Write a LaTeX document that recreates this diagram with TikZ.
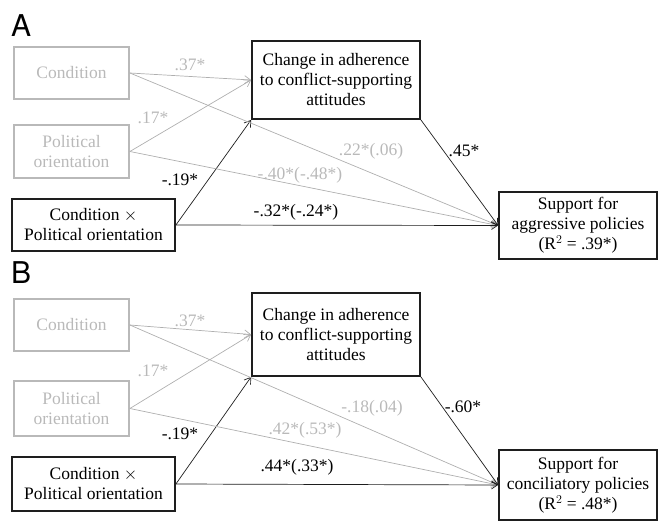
\documentclass[tikz,border=0pt]{standalone}
\usepackage{fontspec}
\setmainfont{Liberation Serif}
\newfontfamily\panelfont{TeX Gyre Heros}
\usetikzlibrary{arrows.meta}
\definecolor{lg}{RGB}{185,185,185}
\definecolor{lgline}{RGB}{175,175,175}
\definecolor{dk}{RGB}{30,30,30}
\begin{document}
\begin{tikzpicture}[x=1pt,y=-1pt,
  every node/.style={font=\fontsize{17.5}{20}\selectfont, inner sep=0pt},
  graybox/.style={draw=lg, line width=1.8pt, text=lg, align=center},
  blackbox/.style={draw=dk, line width=1.8pt, text=black, align=center},
  grayarrow/.style={draw=lgline, line width=0.7pt, -{Straight Barb[length=6pt,width=8pt]}},
  blackarrow/.style={draw=dk, line width=0.7pt, -{Straight Barb[length=6pt,width=8pt]}},
  graylab/.style={text=lg},
  blacklab/.style={text=black},
  panel/.style={font=\panelfont\fontsize{30}{30}\selectfont}
]
\useasboundingbox (0,0) rectangle (658,521);

% ---------- Panel A ----------
\node[graybox, minimum width=115, minimum height=52] (condA) at (71.5,73) {Condition};
\node[graybox, minimum width=115, minimum height=53] (polA) at (71.5,151.5) {Political\\orientation};
\node[blackbox, minimum width=163, minimum height=52] (intA) at (93.5,225) {Condition $\times$\\Political orientation};
\node[blackbox, minimum width=168, minimum height=78] (chgA) at (336,80) {Change in adherence\\to conflict-supporting\\attitudes};
\node[blackbox, minimum width=158, minimum height=67] (supA) at (578,225.5) {Support for\\aggressive policies\\(R$^{2}$ = .39*)};

\draw[grayarrow] (condA.east) -- (chgA.west);
\draw[grayarrow] (polA.east) -- (chgA.west);
\draw[blackarrow] (intA.east) -- (chgA.south west);
\draw[grayarrow] (condA.east) -- (supA.west);
\draw[grayarrow] (polA.east) -- (supA.west);
\draw[blackarrow] (intA.east) -- (supA.west);
\draw[blackarrow] (chgA.south east) -- (supA.west);

\node[graylab] (a1) at (190,65) {.37*};
\node[graylab] (a2) at (153,118) {.17*};
\node[blacklab] (a3) at (180,180) {-.19*};
\node[graylab] (a4) at (371,151) {.22*(.06)};
\node[graylab] (a5) at (300,175) {-.40*(-.48*)};
\node[blacklab] (a6) at (296,212) {-.32*(-.24*)};
\node[blacklab] (a7) at (464,151) {.45*};

% ---------- Panel B ----------
\node[graybox, minimum width=115, minimum height=52] (condB) at (71.5,325) {Condition};
\node[graybox, minimum width=115, minimum height=55] (polB) at (71.5,408.5) {Political\\orientation};
\node[blackbox, minimum width=163, minimum height=54] (intB) at (93.5,484) {Condition $\times$\\Political orientation};
\node[blackbox, minimum width=168, minimum height=83] (chgB) at (336,334.5) {Change in adherence\\to conflict-supporting\\attitudes};
\node[blackbox, minimum width=158, minimum height=70] (supB) at (578,485) {Support for\\conciliatory policies\\(R$^{2}$ = .48*)};

\draw[grayarrow] (condB.east) -- (chgB.west);
\draw[grayarrow] (polB.east) -- (chgB.west);
\draw[blackarrow] (intB.east) -- (chgB.south west);
\draw[grayarrow] (condB.east) -- (supB.west);
\draw[grayarrow] (polB.east) -- (supB.west);
\draw[blackarrow] (intB.east) -- (supB.west);
\draw[blackarrow] (chgB.south east) -- (supB.west);

\node[graylab] (b1) at (190,321) {.37*};
\node[graylab] (b2) at (153,371) {.17*};
\node[blacklab] (b3) at (180,434) {-.19*};
\node[graylab] (b4) at (372,408) {-.18(.04)};
\node[graylab] (b5) at (305,430) {.42*(.53*)};
\node[blacklab] (b6) at (297,467) {.44*(.33*)};
\node[blacklab] (b7) at (463,407) {-.60*};

% panel letters
\node[panel, anchor=base west] (lblA) at (11,37) {A};
\node[panel, anchor=base west] (lblB) at (11,283) {B};
\end{tikzpicture}
\end{document}
